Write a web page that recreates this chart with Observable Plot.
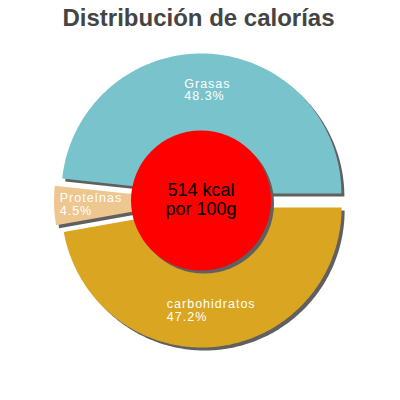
<!DOCTYPE html>
<html><head><meta charset="utf-8">
<script src="https://cdn.jsdelivr.net/npm/d3@7"></script>
<script src="https://cdn.jsdelivr.net/npm/@observablehq/plot@0.6"></script>
<style>
html,body{margin:0;padding:0;background:#fff;}
#chart{width:400px;height:400px;}
</style></head><body><div id="chart"></div>
<script>
// ---- data ----
const title = "Distribución de calorías";
const categories = ["Grasas", "Proteínas", "carbohidratos"];
const percents = [48.3, 4.5, 47.2];
const centerLines = ["514 kcal", "por 100g"];

// ---- style / layout ----
const colors = ["#79C4CC", "#EEC68F", "#DAA520"];
const FONT = "'Liberation Sans', Arial, sans-serif";
const W = 400, H = 400;
const cx = 200.5, cy = 200, R = 140, explode = 7, shadowOff = 3;
const labelR = 0.74, labelSize = 12.5, labelSpacing = 1;

const total = d3.sum(percents);
let acc = 0;
const slices = categories.map((name, i) => {
  const a0 = acc / total * 2 * Math.PI; acc += percents[i];
  const a1 = acc / total * 2 * Math.PI;
  const mid = (a0 + a1) / 2;
  return {name, value: percents[i], a0, a1, mid,
    ox: explode / R * Math.cos(mid), oy: explode / R * Math.sin(mid)};
});

const pts = [];
for (const s of slices) {
  pts.push({name: s.name, x: s.ox, y: s.oy});
  const n = Math.max(8, Math.ceil((s.a1 - s.a0) / (2 * Math.PI) * 360));
  for (let k = 0; k <= n; k++) {
    const a = s.a0 + (s.a1 - s.a0) * k / n;
    pts.push({name: s.name, x: s.ox + Math.cos(a), y: s.oy + Math.sin(a)});
  }
  pts.push({name: s.name, x: s.ox, y: s.oy});
}

// measure label block widths
const ctx = document.createElement("canvas").getContext("2d");
ctx.font = `${labelSize}px ${FONT}`;
const labels = slices.map(s => {
  const lines = [s.name, d3.format(".1f")(s.value) + "%"];
  const w = d3.max(lines, l => ctx.measureText(l).width + (l.length - 1) * labelSpacing);
  return {
    text: lines.join("\n"),
    x: s.ox + labelR * Math.cos(s.mid) - (w / 2) / R,
    y: s.oy + labelR * Math.sin(s.mid)
  };
});

const plot = Plot.plot({
  width: W, height: H, margin: 0,
  x: {domain: [-cx / R, (W - cx) / R], axis: null},
  y: {domain: [-(H - cy) / R, cy / R], axis: null},
  color: {domain: categories, range: colors},
  style: {fontFamily: FONT, background: "white", overflow: "visible"},
  marks: [
    Plot.line(pts, {x: "x", y: "y", z: "name", fill: "#606060", stroke: "none", dx: shadowOff, dy: shadowOff}),
    Plot.line(pts, {x: "x", y: "y", z: "name", fill: "name", stroke: "none"}),
    Plot.dot([{x: 0, y: 0}], {x: "x", y: "y", r: R / 2, fill: "#606060", stroke: "none", dx: shadowOff, dy: shadowOff}),
    Plot.dot([{x: 0, y: 0}], {x: "x", y: "y", r: R / 2, fill: "#FF0000", stroke: "none"}),
    Plot.text(labels, {x: "x", y: "y", text: "text", textAnchor: "start", lineAnchor: "middle",
      lineHeight: 1.0, fontSize: labelSize, fill: "white"}),
    Plot.text([{x: 0, y: 0, t: centerLines.join("\n")}], {x: "x", y: "y", text: "t", textAnchor: "middle",
      lineAnchor: "middle", lineHeight: 1.08, fontSize: 18, fill: "black", dy: -1.5}),
    Plot.text([title], {frameAnchor: "top", dx: -2, dy: 8, lineAnchor: "top",
      fontSize: 24, fontWeight: "bold", fill: "#444444"})
  ]
});
d3.select(plot).selectAll('g[fill="white"] text, g[fill="white"] tspan').style("letter-spacing", labelSpacing + "px");
document.getElementById("chart").appendChild(plot);
</script>
</body></html>
